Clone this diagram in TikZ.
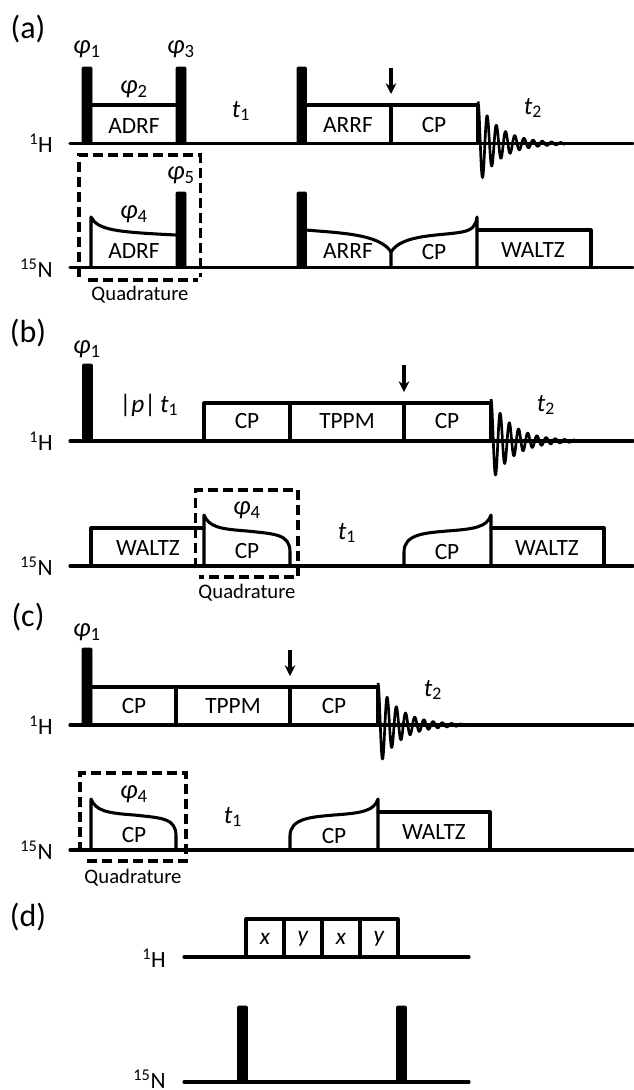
\documentclass[tikz,border=0pt]{standalone}
\usepackage{fontspec}
\setmainfont{Carlito}
\usetikzlibrary{arrows.meta}
\tikzset{
  seq/.style={line width=2.3pt, line cap=round, line join=round},
  pulse/.style={fill=black, draw=black, line width=0.5pt, rounded corners=0.8pt},
  quad/.style={line width=2.3pt, dash pattern=on 7.5pt off 3.8pt},
  mark arrow/.style={line width=2.3pt, -{Stealth[length=8pt,width=8pt]}},
  fid/.style={line width=2pt, line join=round},
  lbl/.style={font=\fontsize{17.5}{20}\selectfont, inner sep=0pt},
  nuc/.style={font=\fontsize{17.5}{20}\selectfont, inner sep=0pt, anchor=east},
  panel/.style={font=\fontsize{24}{28}\selectfont, inner sep=0pt}
}
\newcommand{\ph}[1]{\fontsize{20}{22}\selectfont\textit{φ}\textsubscript{#1}}
\newcommand{\tm}[1]{\fontsize{19}{22}\selectfont\textit{t}\textsubscript{#1}}
\newcommand{\fidat}[2]{\draw[fid] plot[domain=0:87, samples=300] ({#1+\x}, {#2-42*exp(-\x/22)*cos(\x/9.2*360)});}
\begin{document}
\begin{tikzpicture}[x=0.75pt, y=-0.75pt]
\useasboundingbox (0,0) rectangle (633,1090);

% Panel (a)
\node[panel] (pa) at (28,29) {(a)};
\draw[seq] (70,143.5) -- (633,143.5);
\draw[seq] (70,267.5) -- (633,267.5);
\node[nuc] (aH) at (53,143) {\textsuperscript{1}H};
\node[nuc] (aN) at (53,268) {\textsuperscript{15}N};
\filldraw[pulse] (82,67) rectangle (92,143);
\filldraw[pulse] (176,67) rectangle (186,143);
\filldraw[pulse] (297,67) rectangle (306.5,143);
\draw[seq] (92,105) -- (176,105);
\draw[seq] (306,105) -- (478,105);
\draw[seq] (391,105) -- (391,143);
\draw[seq] (478,143) -- (478,105);
\fidat{478}{143.5}
\draw[mark arrow] (391,68) -- (391,94);
\filldraw[pulse] (176,192) rectangle (186,267);
\filldraw[pulse] (297,192) rectangle (306.5,267);
% formas del canal 15N
\draw[seq] (91,267) -- (91,217) .. controls (98,230) and (115,232) .. (176,235);
\draw[seq] (306,230) .. controls (340,233) and (380,234) .. (391,252) -- (391,267);
\draw[seq] (391,252) .. controls (402,234) and (440,236) .. (462,232) .. controls (472,230) and (476,226) .. (477,217) -- (477,267);
\draw[seq] (477,230) -- (591,230) -- (591,267);
\draw[quad] (79,277) |- (200.5,155) -- (200.5,277);
\draw[quad] (88,280) -- (198,280);
\node[lbl] (a1) at (134,126) {ADRF};
\node[lbl] (a2) at (134,251) {ADRF};
\node[lbl] (a3) at (348,125) {ARRF};
\node[lbl] (a4) at (434,125) {CP};
\node[lbl] (a5) at (348,251) {ARRF};
\node[lbl] (a6) at (434,252) {CP};
\node[lbl] (a7) at (533,250) {WALTZ};
\node[lbl] (a8) at (140,295) {\fontsize{15.5}{18}\selectfont Quadrature};
\node[lbl] (ap1) at (87,49) {\ph{1}};
\node[lbl] (ap3) at (181,49) {\ph{3}};
\node[lbl] (ap2) at (134,89) {\ph{2}};
\node[lbl] (ap5) at (181,175) {\ph{5}};
\node[lbl] (ap4) at (134,214) {\ph{4}};
\node[lbl] (at1) at (241,111) {\tm{1}};
\node[lbl] (at2) at (533,108) {\tm{2}};

% Panel (b)
\node[panel] (pb) at (28,333) {(b)};
\draw[seq] (70,441) -- (633,441);
\draw[seq] (70,566) -- (633,566);
\node[nuc] (bH) at (53,441) {\textsuperscript{1}H};
\node[nuc] (bN) at (53,566) {\textsuperscript{15}N};
\filldraw[pulse] (82.5,364) rectangle (92.5,441);
\draw[seq] (204,441) |- (491,403) -- (491,441);
\draw[seq] (290,403) -- (290,441);
\draw[seq] (404,403) -- (404,441);
\fidat{491}{441}
\draw[mark arrow] (404,365) -- (404,392);
\draw[seq] (91,566) |- (204,528);
\draw[seq] (204,566) -- (204,515) .. controls (209,527) and (220,529) .. (247,531) .. controls (275,534) and (290,534) .. (290,552) -- (290,566);
\draw[seq] (404,566) -- (404,552) .. controls (404,534) and (425,533) .. (447,531) .. controls (475,529) and (487,527) .. (491,515) -- (491,566);
\draw[seq] (491,528) -- (604,528) -- (604,566);
\draw[quad] (195.5,568) |- (298,490) -- (298,577) -- (199,577);
\node[lbl] (b1) at (247,421) {CP};
\node[lbl] (b2) at (347,421) {TPPM};
\node[lbl] (b3) at (447,421) {CP};
\node[lbl] (b4) at (148,548) {WALTZ};
\node[lbl] (b5) at (247,551) {CP};
\node[lbl] (b6) at (447,552) {CP};
\node[lbl] (b7) at (547,548) {WALTZ};
\node[lbl] (b8) at (247,593) {\fontsize{15.5}{18}\selectfont Quadrature};
\node[lbl] (bp1) at (87,349) {\ph{1}};
\node[lbl] (bp4) at (247,510) {\ph{4}};
\node[lbl] (bt) at (149,405) {\fontsize{19}{22}\selectfont|\textit{p}|\,\textit{t}\textsubscript{1}};
\node[lbl] (bt1) at (347,533) {\tm{1}};
\node[lbl] (bt2) at (546,405) {\tm{2}};

% Panel (c)
\node[panel] (pc) at (28,617) {(c)};
\draw[seq] (70,725) -- (633,725);
\draw[seq] (70,850) -- (633,850);
\node[nuc] (cH) at (53,725) {\textsuperscript{1}H};
\node[nuc] (cN) at (53,850) {\textsuperscript{15}N};
\filldraw[pulse] (82,648) rectangle (92,725);
\draw[seq] (92,687) -- (378,687) -- (378,725);
\foreach \xp in {176,290} \draw[seq] (\xp,687) -- (\xp,725);
\fidat{378}{725}
\draw[mark arrow] (290,650) -- (290,676);
\draw[seq] (91,850) -- (91,799) .. controls (96,811) and (107,813) .. (134,815) .. controls (162,818) and (176,818) .. (176,836) -- (176,850);
\draw[seq] (290,850) -- (290,836) .. controls (290,818) and (312,817) .. (334,815) .. controls (362,813) and (374,811) .. (378,799) -- (378,850);
\draw[seq] (378,812) -- (490,812) -- (490,850);
\draw[quad] (80,852) |- (186,773) -- (186,861) -- (84,861);
\node[lbl] (c1) at (134,706) {CP};
\node[lbl] (c2) at (233,706) {TPPM};
\node[lbl] (c3) at (334,706) {CP};
\node[lbl] (c4) at (134,835) {CP};
\node[lbl] (c5) at (334,836) {CP};
\node[lbl] (c6) at (434,832) {WALTZ};
\node[lbl] (c7) at (133,878) {\fontsize{15.5}{18}\selectfont Quadrature};
\node[lbl] (cp1) at (87,632) {\ph{1}};
\node[lbl] (cp4) at (134,794) {\ph{4}};
\node[lbl] (ct1) at (233,817) {\tm{1}};
\node[lbl] (ct2) at (433,690) {\tm{2}};

% Panel (d)
\node[panel] (pd) at (28,917) {(d)};
\draw[seq] (184,957) -- (469,957);
\draw[seq] (184,1082) -- (469,1082);
\node[nuc] (dH) at (166,958) {\textsuperscript{1}H};
\node[nuc] (dN) at (166,1079) {\textsuperscript{15}N};
\draw[seq] (246,957) |- (398,919) -- (398,957);
\foreach \xp in {284,322,360} \draw[seq] (\xp,919) -- (\xp,957);
\foreach \xp/\lab in {265/x,303/y,341/x,379/y}
  \node[lbl] (d\xp) at (\xp,939) {\textit{\lab}};
\filldraw[pulse] (237.5,1006) rectangle (247.5,1082);
\filldraw[pulse] (396.5,1006) rectangle (406.5,1082);
\end{tikzpicture}
\end{document}
